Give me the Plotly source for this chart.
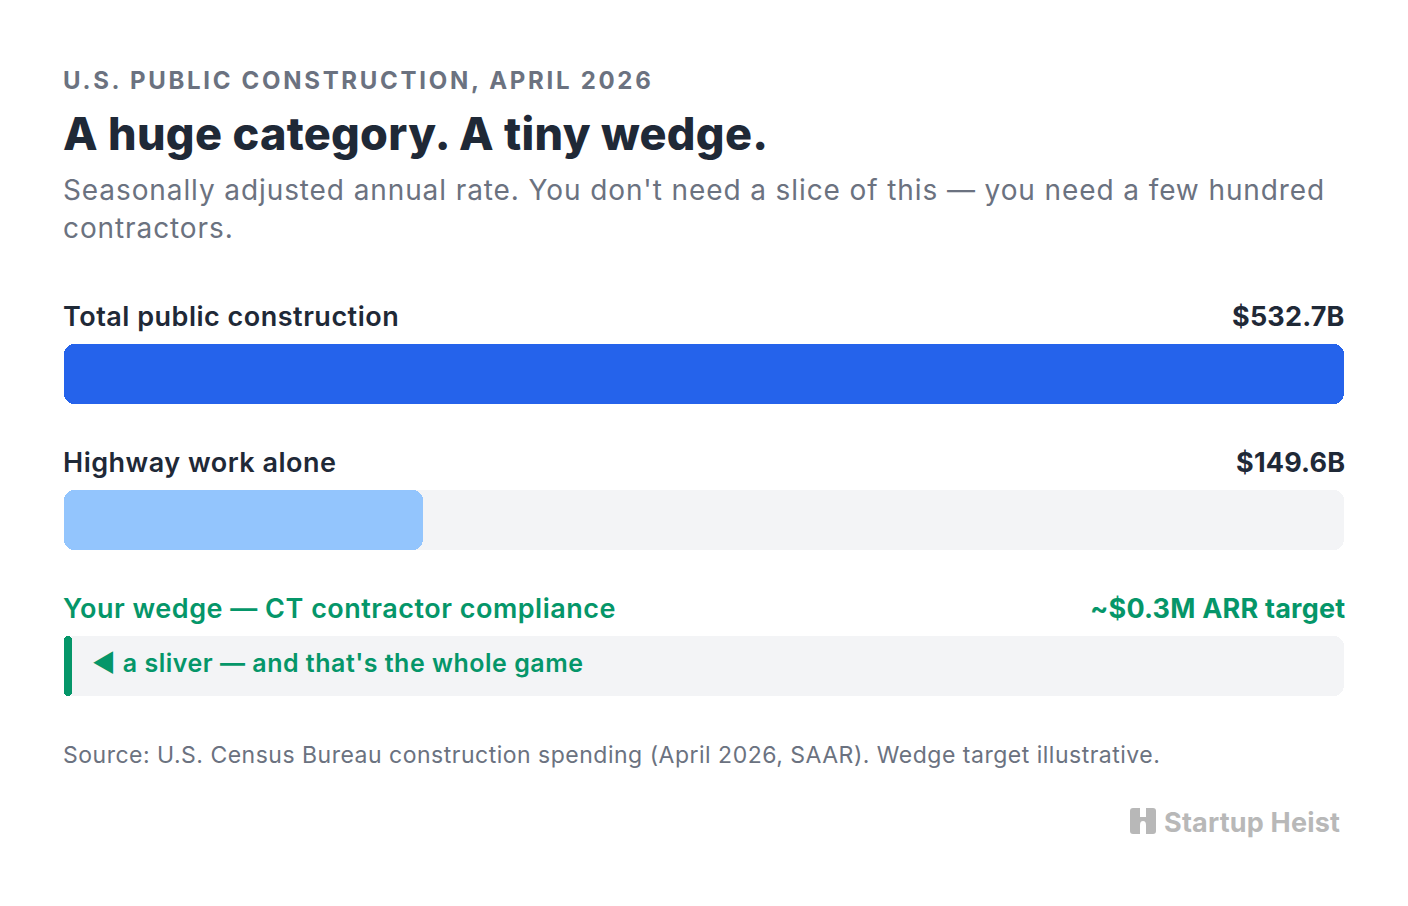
import plotly.graph_objects as go

# ---- data ----
categories = ["Total public construction", "Highway work alone", "Your wedge — CT contractor compliance"]
values_b = [532.7, 149.6, 0.0003]          # billions of dollars (0.3M = 0.0003B)
value_labels = ["$532.7B", "$149.6B", "~$0.3M ARR target"]
bar_colors = ["#2563eb", "#93c5fd", "#059669"]
label_colors = ["#1f2937", "#1f2937", "#059669"]
total_b = values_b[0]

kicker = "U.S. PUBLIC CONSTRUCTION, APRIL 2026"
title = "A huge category. A tiny wedge."
subtitle_lines = ["Seasonally adjusted annual rate. You don't need a slice of this — you need a few hundred",
                  "contractors."]
sliver_note = "◀ a sliver — and that's the whole game"
source = "Source: U.S. Census Bureau construction spending (April 2026, SAAR). Wedge target illustrative."
brand = "Startup Heist"

# ---- layout constants ----
W, H = 1408, 906
ML, MR = 64, 64
PLOT_W = W - ML - MR
ROW0, ROW_STEP, BAR_H = 374, 146, 60
TRACK = "#f3f4f6"
FONT = "Inter"
MIN_PX = 8
min_units = MIN_PX * total_b / PLOT_W

fig = go.Figure()

def rounded_bar(y, length, color, radius):
    fig.add_trace(go.Bar(orientation="h", y=[y], x=[length], base=[0],
                         width=BAR_H, marker=dict(color=color, cornerradius=radius, line=dict(width=0)),
                         hoverinfo="skip", showlegend=False))

for i, (cat, v) in enumerate(zip(categories, values_b)):
    yc = ROW0 + i * ROW_STEP
    rounded_bar(yc, total_b, TRACK, 10)
    shown = max(v, min_units)
    rounded_bar(yc, shown, bar_colors[i], 10 if shown > min_units else 4)

def px(x):
    return (x - ML) / PLOT_W

ann = []
def text(x, y, s, size, color, weight=400, xanchor="left", ls=0.0):
    if ls:
        s = f'<span style="letter-spacing:{ls}px">{s}</span>'
    ann.append(dict(x=x, y=y, xref="paper", yref="y", text=s, showarrow=False,
                    xanchor=xanchor, yanchor="middle", borderpad=0,
                    font=dict(family=FONT, size=size, color=color, weight=weight)))

L = px(62)
R = px(1346)
text(L, 80, kicker, 24, "#6b7280", 700, ls=2.7)
text(L, 133, title, 45, "#1f2937", 800, ls=0.3)
text(L, 190, subtitle_lines[0], 28, "#6b7280", 400, ls=0.9)
text(L, 228, subtitle_lines[1], 28, "#6b7280", 400, ls=0.9)

for i, cat in enumerate(categories):
    yc = ROW0 + i * ROW_STEP
    text(L, yc - 58, cat, 27, label_colors[i], 600, ls=0.5)
    text(R, yc - 58, value_labels[i], 27, label_colors[i], 700, xanchor="right", ls=0.2)

text(px(91), ROW0 + 2 * ROW_STEP - 3, sliver_note, 25, "#059669", 600, ls=0.5)
text(L, 755, source, 23, "#6b7280", 400, ls=0.5)
text(px(1341), 822, brand, 27, "#b8b8b8", 700, xanchor="right", ls=0.2)

# brand icon
a, b = px(1130), px(1156)
c0, c1, m = px(1140), px(1146), px(1143)
r = 3 / PLOT_W
icon = [
    dict(type="path", xref="paper", yref="y",
         path=(f"M {a+r} 808 L {b-r} 808 Q {b} 808 {b} 811 L {b} 831 Q {b} 834 {b-r} 834 "
               f"L {a+r} 834 Q {a} 834 {a} 831 L {a} 811 Q {a} 808 {a+r} 808 Z"),
         fillcolor="#b8b8b8", line=dict(width=0), layer="above"),
    dict(type="rect", xref="paper", yref="y", x0=c0, x1=c1, y0=807, y1=817,
         fillcolor="white", line=dict(width=0), layer="above"),
    dict(type="path", xref="paper", yref="y",
         path=f"M {c0} 835 L {c0} 825 Q {c0} 821 {m} 821 Q {c1} 821 {c1} 825 L {c1} 835 Z",
         fillcolor="white", line=dict(width=0), layer="above"),
]

fig.update_layout(
    width=W, height=H,
    margin=dict(l=ML, r=MR, t=0, b=0),
    paper_bgcolor="white", plot_bgcolor="white",
    barmode="overlay", bargap=0,
    xaxis=dict(range=[0, total_b], visible=False, fixedrange=True),
    yaxis=dict(range=[H, 0], visible=False, fixedrange=True),
    annotations=ann, shapes=icon,
    showlegend=False,
)

fig.write_html("out.html")
